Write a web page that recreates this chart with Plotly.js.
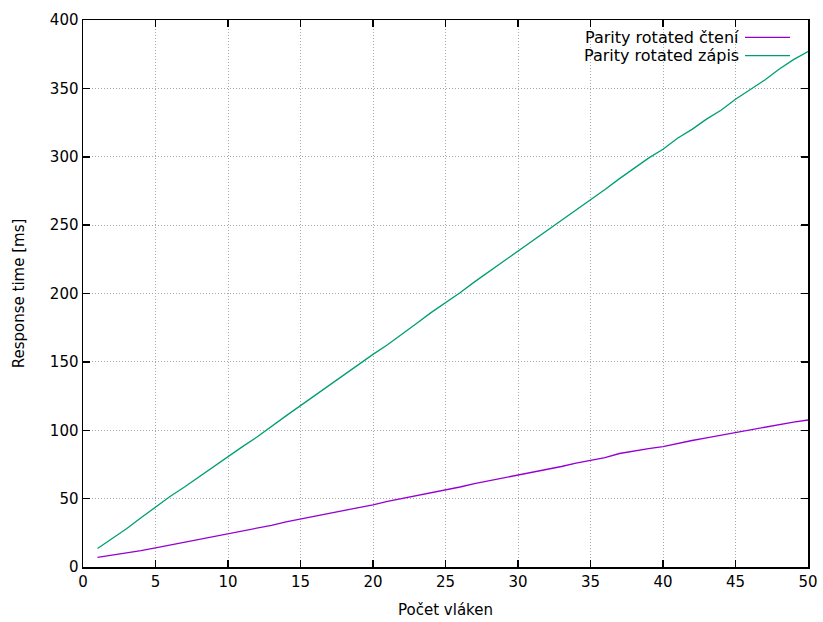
<!DOCTYPE html>
<html><head><meta charset="utf-8">
<script src="https://cdn.plot.ly/plotly-3.0.1.min.js"></script>
<style>html,body{margin:0;padding:0;background:#fff}#chart{width:823px;height:622px}</style>
</head><body><div id="chart"></div>
<script>
const threads = Array.from({length: 50}, (_, i) => i + 1);
const readTimes = [7,8.5,10,12,14,16,18,20,22,24.5,26.5,28.5,30.5,33,35,37,39,41,43,45.5,48,50,52,54,56,58.5,61,63,65,67,69.5,71.5,73.5,76,78,80,83,85,86.5,88,90.5,92.5,94.5,96.5,98,100.5,102,104,106,107.5];
const writeTimes = [13.5,20.5,28,36,44,51.5,58.5,66,73,81,88,95,103,110.5,118,125.5,133,141,148,155.5,162.5,170,178,186,193,200.5,208.5,216,223,231,238.5,246,253,260.5,268.5,276,284,291.5,299,305.5,313.5,320,327.5,334,342,349,356,364,371,377];
const seriesNames = ['Parity rotated čtení', 'Parity rotated zápis'];
const seriesColors = ['#9400d3', '#009e73'];
const xTicks = [0,5,10,15,20,25,30,35,40,45,50];
const yTicks = [0,50,100,150,200,250,300,350,400];

const font = {family: 'DejaVu Sans, sans-serif', size: 15, color: '#000'};
const legendFont = {family: 'DejaVu Sans, sans-serif', size: 16, color: '#000'};
const traces = [readTimes, writeTimes].map((ys, i) => ({
  x: threads, y: ys, type: 'scatter', mode: 'lines', name: seriesNames[i],
  line: {color: seriesColors[i], width: 1.3}, showlegend: false
}));

// plot area: top 20px, height 547px
const legendY = [1 - 17.3/547, 1 - 35.7/547];
const annotations = seriesNames.map((n, i) => ({
  xref: 'paper', yref: 'paper', x: 0.907, y: legendY[i], xanchor: 'right', yanchor: 'middle',
  text: n, showarrow: false, font: legendFont
}));
const shapes = seriesNames.map((n, i) => ({
  type: 'line', xref: 'paper', yref: 'paper', x0: (745-83)/725, x1: (790-83)/725, y0: legendY[i], y1: legendY[i],
  line: {color: seriesColors[i], width: 1.3}
}));

const axisCommon = {
  showline: true, linecolor: '#000', linewidth: 1.5, mirror: 'ticks',
  ticks: 'inside', ticklen: 7, tickwidth: 1.5, tickcolor: '#000',
  showgrid: true, gridcolor: '#a8a8a8', griddash: '1px,2px', gridwidth: 1,
  zeroline: false, tickfont: font
};

const layout = {
  width: 823, height: 622,
  margin: {l: 83, r: 15, t: 20, b: 55},
  paper_bgcolor: '#fff', plot_bgcolor: '#fff',
  font: font,
  xaxis: Object.assign({}, axisCommon, {
    range: [0, 50], tickvals: xTicks, ticktext: xTicks.map(String),
    title: {text: 'Počet vláken', font: font, standoff: 15}
  }),
  yaxis: Object.assign({}, axisCommon, {
    range: [0, 400], tickvals: yTicks, ticktext: yTicks.map(String),
    title: {text: 'Response time [ms]', font: font, standoff: 21}
  }),
  annotations: annotations,
  shapes: shapes
};

Plotly.newPlot('chart', traces, layout, {displayModeBar: false, staticPlot: true});
</script></body></html>
